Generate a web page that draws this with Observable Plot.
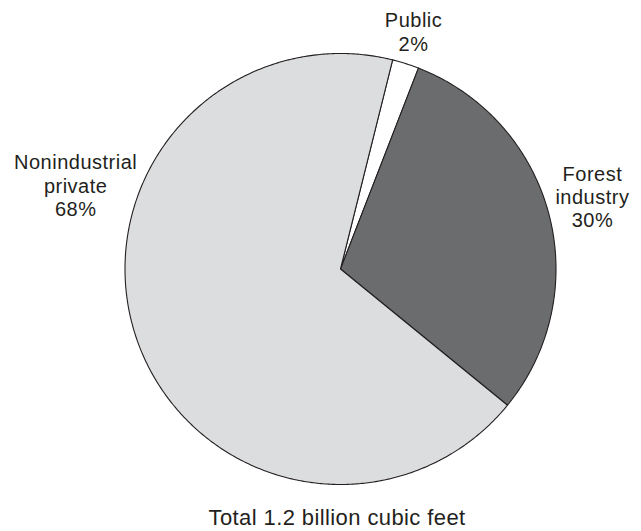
<!DOCTYPE html>
<html>
<head>
<meta charset="utf-8">
<script src="https://cdn.jsdelivr.net/npm/d3@7"></script>
<script src="https://cdn.jsdelivr.net/npm/@observablehq/plot@0.6"></script>
<style>
  html, body { margin: 0; padding: 0; background: #fff; }
  #chart svg { display: block; }
</style>
</head>
<body>
<div id="chart"></div>
<script>
// ---- data ----
const categories = ["Public", "Forest industry", "Nonindustrial private"];
const shares = [2, 30, 68];
const labelLines = [["Public", "2%"], ["Forest", "industry", "30%"], ["Nonindustrial", "private", "68%"]];
const caption = "Total 1.2 billion cubic feet";

// ---- styling / layout (not data) ----
const fills = ["#ffffff", "#6b6c6e", "#dcdddf"];
const startDeg = 14;
const labelPlace = [[0.339, -1.102], [1.169, -0.336], [-1.229, -0.389]];
const captionPlace = [-0.016, 1.155];

const rows = categories.map((c, i) => ({name: c, share: shares[i], label: labelLines[i].join("\n")}));
const a0 = startDeg * Math.PI / 180;
const arcs = d3.pie().sort(null).value(d => d.share).startAngle(a0).endAngle(a0 + 2 * Math.PI)(rows);

function slicePolygon(a) {
  const pts = [[0, 0]];
  const n = Math.max(2, Math.ceil((a.endAngle - a.startAngle) / (Math.PI / 360)));
  for (let k = 0; k <= n; k++) {
    const t = a.startAngle + (a.endAngle - a.startAngle) * k / n;
    pts.push([Math.sin(t), -Math.cos(t)]);
  }
  pts.push([0, 0]);
  return {type: "Feature", properties: {name: a.data.name}, geometry: {type: "Polygon", coordinates: [pts]}};
}
const slices = arcs.map(slicePolygon);
const domain = {type: "Polygon", coordinates: [[[-1, -1], [1, -1], [1, 1], [-1, 1], [-1, -1]]]};

const labels = rows.map((r, i) => ({label: r.label, x: labelPlace[i][0], y: labelPlace[i][1]}));

const plot = Plot.plot({
  width: 641,
  height: 531,
  marginLeft: 124.5,
  marginRight: 85.5,
  marginTop: 53,
  marginBottom: 47,
  projection: {type: "identity", domain, clip: false},
  color: {domain: categories, range: fills},
  style: {fontFamily: "'Liberation Sans', Arial, Helvetica, sans-serif", background: "#fff"},
  marks: [
    Plot.geo(slices, {fill: d => d.properties.name, stroke: "#231f20", strokeWidth: 1.1, strokeLinejoin: "round"}),
    Plot.text(labels, {x: "x", y: "y", text: "label", fontSize: 20, lineHeight: 1.17, fill: "#231f20", textAnchor: "middle", lineAnchor: "middle", style: "letter-spacing:0.5px"}),
    Plot.text([caption], {x: () => captionPlace[0], y: () => captionPlace[1], text: d => d, fontSize: 22, fill: "#231f20", textAnchor: "middle", lineAnchor: "middle"})
  ]
});
plot.querySelectorAll("text").forEach(t => {
  t.style.letterSpacing = t.textContent === caption ? "0.4px" : "0.5px";
});
document.getElementById("chart").appendChild(plot);
</script>
</body>
</html>
